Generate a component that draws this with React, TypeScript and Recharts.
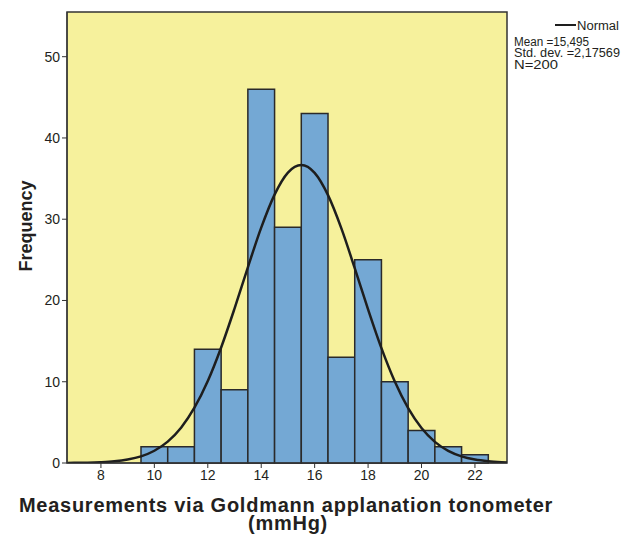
import {
  ComposedChart,
  Line,
  XAxis,
  YAxis,
  ReferenceArea,
} from "recharts";

// histogram bins (centre of bin, width 1)
const binCenters = [10, 11, 12, 13, 14, 15, 16, 17, 18, 19, 20, 21, 22];
const binCounts = [2, 2, 14, 9, 46, 29, 43, 13, 25, 10, 4, 2, 1];

// fitted normal curve
const curveX = [
  6.75, 7, 7.5, 8, 8.5, 9, 9.5, 10, 10.5, 11, 11.5, 12, 12.5, 13, 13.5, 14,
  14.5, 15, 15.5, 16, 16.5, 17, 17.5, 18, 18.5, 19, 19.5, 20, 20.5, 21, 21.5,
  22, 22.5, 23, 23.2,
];
const curveY = [
  0.01, 0.02, 0.04, 0.1, 0.21, 0.43, 0.82, 1.51, 2.63, 4.34, 6.8, 10.09, 14.22,
  19.0, 24.08, 28.96, 33.03, 35.74, 36.67, 35.7, 32.96, 28.87, 23.98, 18.9,
  14.13, 10.02, 6.74, 4.3, 2.6, 1.49, 0.81, 0.42, 0.21, 0.1, 0.07,
];

const xTicks = [8, 10, 12, 14, 16, 18, 20, 22];
const yTicks = [0, 10, 20, 30, 40, 50];
const xDomain: [number, number] = [6.73, 23.2];
const yDomain: [number, number] = [0, 55.5];

const legendLines = ["Mean =15,495", "Std. dev. =2,17569", "N=200"];
const legendWidths = [75, 106, 44];

const FONT = "'Liberation Sans', Arial, sans-serif";
const INK = "#231f20";

const curveData = curveX.map((x, i) => ({ x, y: curveY[i] }));

function XTitle(props: any) {
  const vb = props.viewBox || {};
  const cx = vb.x + vb.width / 2;
  const style = {
    fontFamily: FONT,
    fontWeight: "bold" as const,
    fontSize: 20,
    letterSpacing: 0.75,
    fill: INK,
  };
  return (
    <g>
      <text x={cx - 1} y={512} textAnchor="middle" style={style}>
        Measurements via Goldmann applanation tonometer
      </text>
      <text x={cx + 1} y={530} textAnchor="middle" style={style}>
        (mmHg)
      </text>
    </g>
  );
}

function YTitle() {
  return (
    <text
      x={32}
      y={226}
      transform="rotate(-90, 32, 226)"
      textAnchor="middle"
      fontFamily={FONT}
      fontWeight="bold"
      fontSize={18}
      fill={INK}
    >
      Frequency
    </text>
  );
}

export default function App() {
  return (
    <div
      style={{
        position: "absolute",
        left: 0,
        top: 0,
        width: 626,
        height: 535,
        background: "#fff",
      }}
    >
      <ComposedChart
        width={626}
        height={535}
        data={curveData}
        margin={{ top: 12, right: 119, left: 0, bottom: 0 }}
      >
        <ReferenceArea
          x1={xDomain[0]}
          x2={xDomain[1]}
          y1={yDomain[0]}
          y2={yDomain[1]}
          fill="#f6f19c"
          fillOpacity={1}
          stroke="#333"
          strokeWidth={1.5}
        />
        {binCenters.map((c, i) => (
          <ReferenceArea
            key={c}
            x1={c - 0.5}
            x2={c + 0.5}
            y1={0}
            y2={binCounts[i]}
            fill="#74a8d4"
            fillOpacity={1}
            stroke="#2a2a2a"
            strokeWidth={1.5}
          />
        ))}
        <XAxis
          dataKey="x"
          type="number"
          domain={xDomain}
          allowDataOverflow
          ticks={xTicks}
          height={72}
          tickSize={5}
          stroke="#333"
          tick={{ fill: INK, fontSize: 14, fontFamily: FONT }}
          label={<XTitle />}
        />
        <YAxis
          type="number"
          domain={yDomain}
          allowDataOverflow
          ticks={yTicks}
          width={67}
          tickSize={5}
          stroke="#333"
          tick={{ fill: INK, fontSize: 14, fontFamily: FONT }}
          label={<YTitle />}
        />
        <Line
          type="monotone"
          dataKey="y"
          stroke="#1e1e1e"
          strokeWidth={2.5}
          dot={false}
          activeDot={false}
          isAnimationActive={false}
        />
      </ComposedChart>
      <svg
        width={126}
        height={80}
        style={{ position: "absolute", left: 500, top: 0 }}
      >
        <line x1={55} x2={76} y1={25} y2={25} stroke="#1e1e1e" strokeWidth={2} />
        <text
          x={77}
          y={30}
          fontFamily={FONT}
          fontSize={12.5}
          fill={INK}
          textLength={42}
          lengthAdjust="spacingAndGlyphs"
        >
          Normal
        </text>
        {legendLines.map((t, i) => (
          <text
            key={t}
            x={14}
            y={45.5 + i * 11.5}
            fontFamily={FONT}
            fontSize={12.5}
            fill={INK}
            textLength={legendWidths[i]}
            lengthAdjust="spacingAndGlyphs"
          >
            {t}
          </text>
        ))}
      </svg>
    </div>
  );
}
